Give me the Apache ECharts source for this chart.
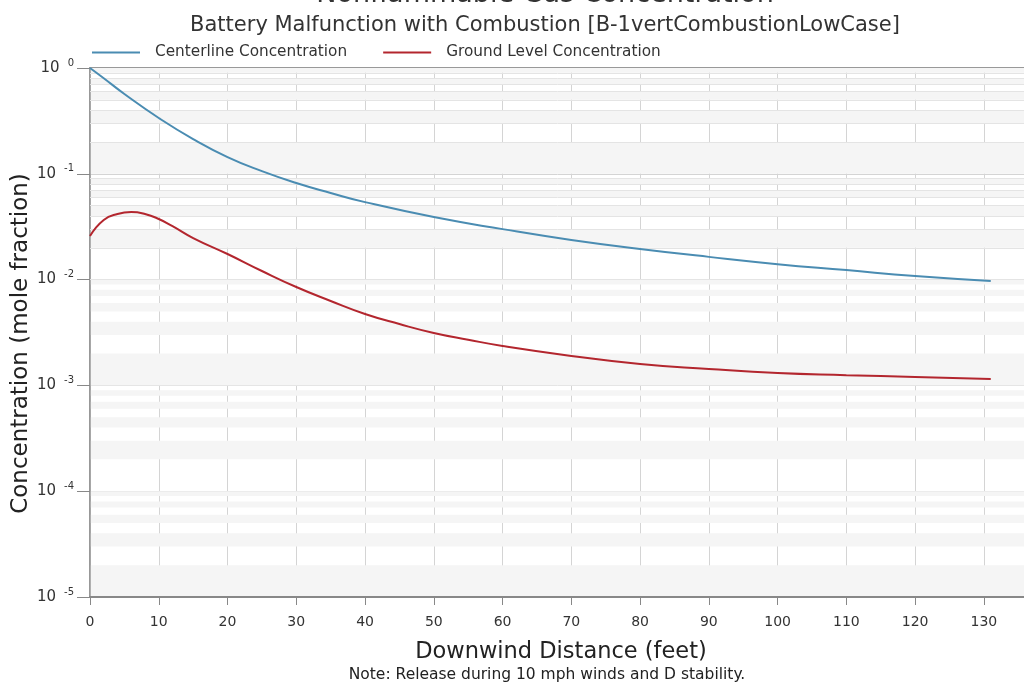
<!DOCTYPE html>
<html><head><meta charset="utf-8">
<script src="https://cdn.jsdelivr.net/npm/echarts@6/dist/echarts.min.js"></script>
<style>html,body{margin:0;padding:0;background:#fff}#c{width:1024px;height:684px}</style>
</head><body><div id="c"></div>
<script>
const distances = [0, 2, 5, 10, 15, 20, 25, 30, 35, 40, 50, 60, 70, 80, 90, 100, 110, 120, 131];
const centerline = [1.0, 0.80, 0.568, 0.337, 0.213, 0.144, 0.106, 0.0818, 0.0659, 0.054, 0.039, 0.030, 0.0237, 0.0195, 0.0164, 0.0140, 0.0123, 0.0108, 0.0097];
const groundX = [0, 2, 4, 6, 8, 10, 12, 15, 20, 25, 30, 35, 40, 45, 50, 55, 60, 70, 80, 90, 100, 110, 120, 131];
const ground = [0.0258, 0.0366, 0.0417, 0.0435, 0.0417, 0.0374, 0.032, 0.0247, 0.01746, 0.01206, 0.00851, 0.00628, 0.00473, 0.0038, 0.00313, 0.0027, 0.00236, 0.0019, 0.00159, 0.00143, 0.00131, 0.00125, 0.0012, 0.00115];
const xTicks = [0, 10, 20, 30, 40, 50, 60, 70, 80, 90, 100, 110, 120, 130];
const decades = [-5, -4, -3, -2, -1];
const FONT = 'DejaVu Sans';

const minorLines = [];
const bands = [];
decades.forEach(k => {
  for (let m = 1; m <= 9; m++) {
    if (m >= 2) minorLines.push({ yAxis: m * Math.pow(10, k) });
    if ((m + k) % 2 === 0) bands.push([{ yAxis: m * Math.pow(10, k) }, { yAxis: (m + 1) * Math.pow(10, k) }]);
  }
});

const chart = echarts.init(document.getElementById('c'));
chart.setOption({
  animation: false,
  textStyle: { fontFamily: FONT },
  title: [
    { text: 'Nonflammable Gas Concentration', left: 540, textAlign: 'center', top: -24, textStyle: { fontSize: 27, fontWeight: 'normal', color: '#333', fontFamily: FONT } },
    { text: 'Battery Malfunction with Combustion [B-1vertCombustionLowCase]', left: 540, textAlign: 'center', top: 10, textStyle: { fontSize: 21, fontWeight: 'normal', color: '#333', fontFamily: FONT } },
    { text: 'Note: Release during 10 mph winds and D stability.', left: 542, textAlign: 'center', top: 662, textStyle: { fontSize: 15.5, fontWeight: 'normal', color: '#222', fontFamily: FONT } }
  ],
  legend: {
    data: ['Centerline Concentration', 'Ground Level Concentration'],
    left: 87, top: 40, itemWidth: 48, itemHeight: 2, itemGap: 36,
    icon: 'rect',
    textStyle: { fontSize: 15.3, color: '#333', fontFamily: FONT, padding: [0, 0, 0, 10] }
  },
  grid: { left: 90, right: -8, top: 68, bottom: 87, outerBoundsMode: 'none', containLabel: false, show: true, borderColor: '#999', borderWidth: 2, backgroundColor: 'transparent' },
  xAxis: {
    type: 'value', min: 0, max: 137, interval: 10,
    name: 'Downwind Distance (feet)', nameLocation: 'middle', nameGap: 44,
    nameTextStyle: { fontSize: 22.5, color: '#222', fontFamily: FONT },
    axisLine: { lineStyle: { color: '#888', width: 2 } },
    axisTick: { show: true, length: 8, lineStyle: { color: '#888' } },
    axisLabel: { fontSize: 14, color: '#333', margin: 18, fontFamily: FONT, formatter: v => xTicks.includes(v) ? String(v) : '' },
    splitLine: { show: true, lineStyle: { color: '#d4d4d4' } }
  },
  yAxis: {
    type: 'log', logBase: 10, min: 1e-5, max: 1, splitNumber: 5,
    name: 'Concentration (mole fraction)', nameLocation: 'middle', nameGap: 57, nameMoveOverlap: false,
    nameTextStyle: { fontSize: 23, color: '#222', fontFamily: FONT, padding: [0, 22, 0, 0] },
    axisLine: { show: true, lineStyle: { color: '#999', width: 1.5 } },
    axisTick: { show: true, length: 13, lineStyle: { color: '#888' } },
    axisLabel: {
      margin: 16, fontFamily: FONT,
      formatter: v => '{b|10}{s|' + Math.round(Math.log10(v)) + '}',
      rich: {
        b: { fontSize: 15, color: '#333', fontFamily: FONT },
        s: { fontSize: 10, color: '#333', fontFamily: FONT, padding: [0, 0, 10, 8] }
      }
    },
    splitLine: { show: true, lineStyle: { color: '#d4d4d4' } }
  },
  series: [
    {
      name: 'grid', type: 'line', data: [], z: 0, silent: true,
      markArea: { silent: true, z: 0, itemStyle: { color: '#f5f5f5' }, data: bands },
      markLine: { silent: true, z: 1, symbol: 'none', label: { show: false }, lineStyle: { color: '#e4e4e4', type: 'solid', width: 1 }, data: minorLines }
    },
    {
      name: 'Centerline Concentration', type: 'line', smooth: true, showSymbol: false, z: 10,
      lineStyle: { color: '#4a8cb2', width: 2 }, itemStyle: { color: '#4a8cb2' },
      data: distances.map((d, i) => [d, centerline[i]])
    },
    {
      name: 'Ground Level Concentration', type: 'line', smooth: true, showSymbol: false, z: 10,
      lineStyle: { color: '#b3262e', width: 2 }, itemStyle: { color: '#b3262e' },
      data: groundX.map((d, i) => [d, ground[i]])
    }
  ]
});
</script></body></html>
